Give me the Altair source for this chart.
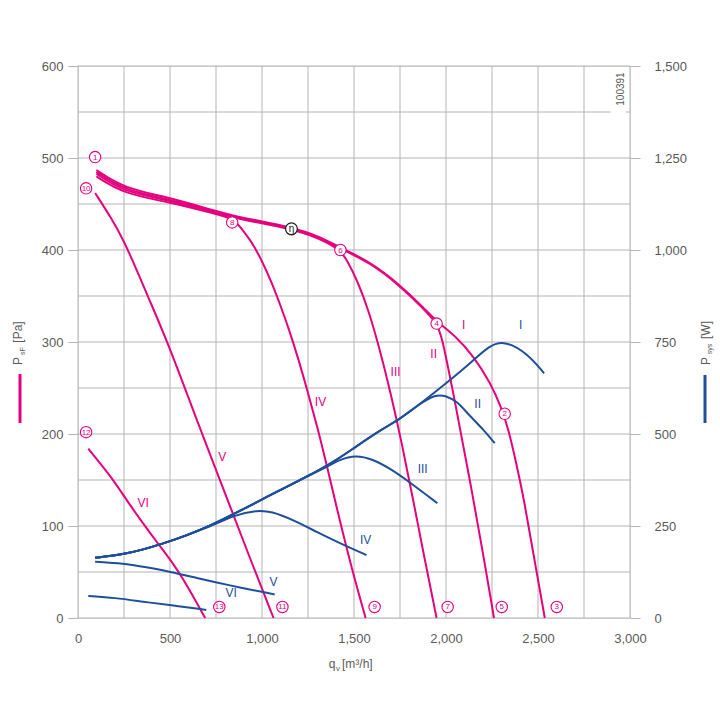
import altair as alt
import pandas as pd

PINK = "#e5007e"
BLUE = "#1f4f9b"
GRID = "#b4b4b4"
LABEL = "#5a5a5a"
FONT = "Liberation Sans"

# ---------------- data ----------------
# pink P_sF curves [Pa] vs q_v [m3/h]
bundle_x = [100, 250, 500, 750, 850, 1000, 1150, 1300, 1420, 1590, 1750, 1880, 1950]
I_top = [487, 467, 457, 442, 437, 431, 425, 416, 403, 387, 362, 337, 322]
II_top = [485, 465, 455, 441, 436, 430, 424, 415, 402, 386, 361, 336, 320]
III_top = [483, 463, 454, 440, 435, 429, 423, 414, 401]
IV_top = [480, 461, 452, 439, 434]

I_tail_x = [2050, 2152, 2243, 2298, 2340, 2380, 2425, 2479, 2537]
I_tail_y = [307, 284, 255, 230, 205, 170, 128, 65, 0]
II_tail_x = [1975, 2050, 2125, 2200, 2261]
II_tail_y = [309, 234, 155, 72, 0]
III_tail_x = [1460, 1520, 1580, 1640, 1700, 1760, 1820, 1880, 1949]
III_tail_y = [390, 366, 334, 292, 244, 190, 130, 68, 0]
IV_tail_x = [900, 950, 1000, 1050, 1100, 1150, 1200, 1250, 1300, 1350, 1420, 1490, 1563]
IV_tail_y = [420, 407, 388, 366, 340, 312, 280, 245, 208, 168, 108, 52, 0]
V_x = [93, 180, 247, 320, 383, 483, 646, 740, 837, 950, 1063]
V_y = [462, 435, 411, 378, 348, 302, 215, 166, 116, 57, 0]
VI_x = [56, 120, 192, 265, 338, 430, 519, 600, 691]
VI_y = [184, 168, 150, 128, 107, 82, 59, 33, 0]

# blue P_sys curves [W]
env_x = [93, 250, 446, 719, 991, 1354, 1500, 1644]
env_w = [164, 172, 198, 248, 321, 411, 462, 511]
bI_x = [1750, 1850, 2025, 2152, 2230, 2316, 2443, 2533]
bI_w = [541, 578, 647, 701, 738, 755, 719, 665]
bII_x = [1750, 1850, 1944, 2000, 2062, 2116, 2207, 2265]
bII_w = [540, 580, 608, 604, 588, 556, 510, 475]
bIII_x = [1420, 1508, 1600, 1700, 1800, 1953]
bIII_w = [430, 443, 432, 405, 370, 312]
bIV_x = [850, 973, 1050, 1172, 1300, 1445, 1568]
bIV_w = [280, 293, 290, 266, 233, 198, 171]
bV_x = [93, 250, 356, 501, 650, 810, 1069]
bV_w = [153, 148, 139, 126, 108, 90, 64]
bVI_x = [56, 200, 356, 500, 697]
bVI_w = [60, 55, 44, 35, 22]

# circled operating-point markers
mark_lbl = ["1", "10", "8", "6", "4", "2", "3", "5", "7", "9", "11", "13", "12"]
mark_x = [93, 44, 838, 1426, 1949, 2319, 2602, 2303, 2009, 1612, 1111, 768, 44]
mark_y = [501, 467, 430, 400, 320, 222, 12, 12, 12, 12, 12, 12, 202]
eta_x = [1160]
eta_y = [423]

# curve labels
roman = ["I", "II", "III", "IV", "V", "VI"]
pink_lbl_x = [2096, 1933, 1726, 1318, 784, 354]
pink_lbl_y = [318, 287, 267, 235, 175, 125]
blue_lbl_x = [2406, 2172, 1873, 1563, 1062, 833]
blue_lbl_w = [795, 582, 405, 212, 97, 67]

# axes / grid
x_ticks = [0, 500, 1000, 1500, 2000, 2500, 3000]
y_ticks = [0, 100, 200, 300, 400, 500, 600]
w_ticks = [0, 250, 500, 750, 1000, 1250, 1500]
x_grid = [0, 250, 500, 750, 1000, 1250, 1500, 1750, 2000, 2250, 2500, 2750, 3000]
y_grid = [0, 50, 100, 150, 200, 250, 300, 350, 400, 450, 500, 550, 600]
box_x = [2895, 2978]
box_y = [546, 554]

# ---------------- tables ----------------
def rows(name, xs, ys, key="y"):
    return [{"curve": name, "x": a, key: b} for a, b in zip(xs, ys)]

pink_rows = (rows("I", bundle_x + I_tail_x, I_top + I_tail_y)
             + rows("II", bundle_x + II_tail_x, II_top + II_tail_y)
             + rows("III", bundle_x[:len(III_top)] + III_tail_x, III_top + III_tail_y)
             + rows("IV", bundle_x[:len(IV_top)] + IV_tail_x, IV_top + IV_tail_y)
             + rows("V", V_x, V_y)
             + rows("VI", VI_x, VI_y))
pink_df = pd.DataFrame(pink_rows)

blue_rows = (rows("I", env_x + bI_x, env_w + bI_w, "w")
             + rows("II", env_x + bII_x, env_w + bII_w, "w")
             + rows("III", env_x[:6] + bIII_x, env_w[:6] + bIII_w, "w")
             + rows("IV", env_x[:4] + bIV_x, env_w[:4] + bIV_w, "w")
             + rows("V", bV_x, bV_w, "w")
             + rows("VI", bVI_x, bVI_w, "w"))
blue_df = pd.DataFrame(blue_rows)

W, H = 552, 552
xs = alt.Scale(domain=[0, 3000], nice=False, zero=False)
ys = alt.Scale(domain=[0, 600], nice=False, zero=False)
ws = alt.Scale(domain=[0, 1500], nice=False, zero=False)

x_axis = alt.Axis(values=x_ticks, format=",.0f", tickSize=0, labelPadding=14,
                  labelFlush=False, labelOverlap=False,
                  domain=False, grid=False, title=None, labelFont=FONT,
                  labelFontSize=13, labelColor=LABEL)
left_axis = alt.Axis(values=y_ticks, format="d", tickSize=10, tickColor=GRID,
                     labelFlush=False, labelOverlap=False,
                     labelPadding=5, domain=False, grid=False, title=None,
                     labelFont=FONT, labelFontSize=13, labelColor=LABEL)
right_axis = alt.Axis(values=w_ticks, format=",.0f", orient="right", tickSize=10,
                      labelFlush=False, labelOverlap=False,
                      tickColor=GRID, labelPadding=14, domain=False, grid=False,
                      title=None, labelFont=FONT, labelFontSize=13, labelColor=LABEL)

X = lambda: alt.X("x:Q", scale=xs, axis=x_axis)

gx = alt.Chart(pd.DataFrame({"x": x_grid})).mark_rule(color=GRID, strokeWidth=1).encode(x=X())
gy = alt.Chart(pd.DataFrame({"y": y_grid})).mark_rule(color=GRID, strokeWidth=1).encode(
    y=alt.Y("y:Q", scale=ys, axis=None))
box = alt.Chart(pd.DataFrame({"x": [box_x[0]], "x2": [box_x[1]], "y": [box_y[0]], "y2": [box_y[1]]})).mark_rect(
    color="white").encode(x=X(), x2="x2", y=alt.Y("y:Q", scale=ys, axis=None), y2="y2")

pink = alt.Chart(pink_df).mark_line(color=PINK, strokeWidth=2, interpolate="basis").encode(
    x=X(), y=alt.Y("y:Q", scale=ys, axis=left_axis), detail="curve:N")
blue = alt.Chart(blue_df).mark_line(color=BLUE, strokeWidth=2, interpolate="basis").encode(
    x=X(), y=alt.Y("w:Q", scale=ws, axis=right_axis), detail="curve:N")

mk_df = pd.DataFrame({"x": mark_x, "y": mark_y, "t": mark_lbl})
mk = alt.Chart(mk_df).mark_point(shape="circle", filled=True, fill="white", stroke=PINK,
                                 strokeWidth=1.1, size=130, opacity=1).encode(
    x=X(), y=alt.Y("y:Q", scale=ys, axis=None))
mk_t = alt.Chart(mk_df).mark_text(color=PINK, fontSize=8, font=FONT, baseline="middle", dy=0.5).encode(
    x=X(), y=alt.Y("y:Q", scale=ys, axis=None), text="t:N")

eta_df = pd.DataFrame({"x": eta_x, "y": eta_y, "t": ["η"]})
eta = alt.Chart(eta_df).mark_point(shape="circle", filled=True, fill="white", stroke="#222222",
                                   strokeWidth=1.3, size=140, opacity=1).encode(
    x=X(), y=alt.Y("y:Q", scale=ys, axis=None))
eta_t = alt.Chart(eta_df).mark_text(color="#222222", fontSize=10, font=FONT, baseline="middle").encode(
    x=X(), y=alt.Y("y:Q", scale=ys, axis=None), text="t:N")

pl = alt.Chart(pd.DataFrame({"x": pink_lbl_x, "y": pink_lbl_y, "t": roman})).mark_text(
    color=PINK, fontSize=12, font=FONT).encode(
    x=X(), y=alt.Y("y:Q", scale=ys, axis=None), text="t:N")
bl = alt.Chart(pd.DataFrame({"x": blue_lbl_x, "w": blue_lbl_w, "t": roman})).mark_text(
    color=BLUE, fontSize=12, font=FONT).encode(
    x=X(), y=alt.Y("w:Q", scale=ws, axis=None), text="t:N")

one = pd.DataFrame({"k": [0]})

def ptext(txt, px, py, size=12, angle=0, color=LABEL, align="center"):
    return alt.Chart(one).mark_text(text=txt, fontSize=size, angle=angle, color=color,
                                    font=FONT, align=align, baseline="middle").encode(
        x=alt.value(px - 78), y=alt.value(py - 66))

def pline(px, py1, py2, color):
    return alt.Chart(one).mark_rule(color=color, strokeWidth=3).encode(
        x=alt.value(px - 78), y=alt.value(py1 - 66), y2=alt.value(py2 - 66))

titles = [
    ptext("P", 18, 361, 12, 270),
    ptext("sF", 23, 351, 7, 270),
    ptext("[Pa]", 18, 332, 12, 270),
    pline(20, 374, 423, PINK),
    ptext("P", 706, 361, 12, 270),
    ptext("sys", 710, 349, 7, 270),
    ptext("[W]", 706, 330, 12, 270),
    pline(705, 375, 423, BLUE),
    ptext("q", 332, 664, 12),
    ptext("v", 338, 669, 8),
    ptext("[m³/h]", 342, 664, 12, align="left"),
    ptext("100391", 621, 89, 10, 270),
]

chart = alt.layer(gx, gy, box, pink, blue, pl, bl, mk, mk_t, eta, eta_t, *titles).resolve_scale(
    y="independent").properties(
    width=W, height=H,
    autosize=alt.AutoSizeParams(type="none"),
    padding={"left": 78, "top": 66, "right": 90, "bottom": 102},
).configure_view(stroke=None).configure(background="white")

chart.save("out.html", embed_options={"renderer": "svg", "actions": False})
